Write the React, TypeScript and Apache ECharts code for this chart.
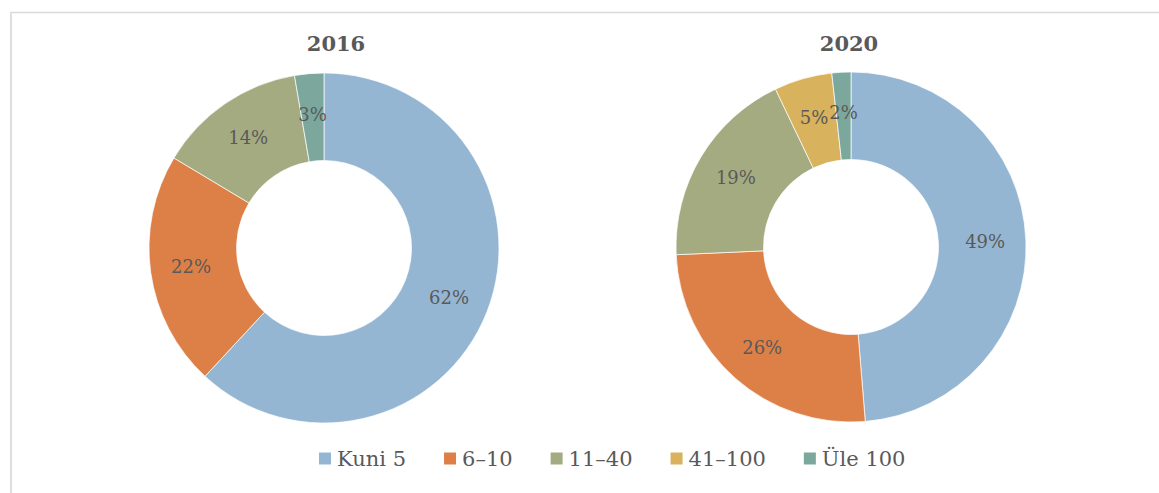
import React, { useEffect, useRef } from "react";
import * as echarts from "echarts";

const categories = ["Kuni 5", "6–10", "11–40", "41–100", "Üle 100"];
const colors = ["#94B6D2", "#DD8047", "#A5AB81", "#D8B25C", "#7BA79D"];
const years = ["2016", "2020"];
const values2016 = [61.9, 21.7, 13.7, 0, 2.7];
const values2020 = [48.7, 25.6, 18.6, 5.35, 1.75];

const FONT = "DejaVu Serif";
const TEXT = "#595959";

export default function App() {
  const ref = useRef<HTMLDivElement>(null);
  useEffect(() => {
    if (!ref.current) return;
    const chart = echarts.init(ref.current, null, { renderer: "svg" });
    const mk = (vals: number[]) => {
      const total = vals.reduce((a, b) => a + b, 0);
      return {
        data: categories
          .map((name, i) => ({ name, value: vals[i], itemStyle: { color: colors[i] } }))
          .filter((d) => d.value > 0),
        total,
      };
    };
    const s1 = mk(values2016);
    const s2 = mk(values2020);
    const pie = (s: { data: any[]; total: number }, cx: number, cy: number) => ({
      type: "pie",
      center: [cx, cy],
      radius: [87.5, 175],
      startAngle: 90,
      clockwise: true,
      avoidLabelOverlap: false,
      itemStyle: { borderColor: "#ffffff", borderWidth: 0.7 },
      label: {
        show: true,
        position: "inside",
        fontFamily: FONT,
        fontSize: 18,
        color: TEXT,
        formatter: (p: any) => Math.round((p.value / s.total) * 100) + "%",
      },
      labelLine: { show: false },
      emphasis: { disabled: true },
      data: s.data,
    });
    chart.setOption({
      animation: false,
      backgroundColor: "#ffffff",
      title: [
        {
          text: years[0],
          left: 331,
          top: 28,
          textAlign: "center",
          textStyle: { fontFamily: FONT, fontSize: 21, fontWeight: "bold", color: TEXT },
        },
        {
          text: years[1],
          left: 844,
          top: 28,
          textAlign: "center",
          textStyle: { fontFamily: FONT, fontSize: 21, fontWeight: "bold", color: TEXT },
        },
      ],
      legend: {
        data: categories,
        left: 317,
        top: 448,
        padding: 0,
        icon: "rect",
        itemWidth: 14,
        itemHeight: 14,
        itemGap: 36,
        textStyle: { fontFamily: FONT, fontSize: 21, color: TEXT },
      },
      graphic: [
        {
          type: "polyline",
          shape: { points: [[11, 600], [11, 12.5], [1300, 12.5]] },
          style: { stroke: "#d9d9d9", lineWidth: 1.7, fill: null },
          silent: true,
        },
      ],
      series: [pie(s1, 324, 248), pie(s2, 851, 247)],
    });
    return () => chart.dispose();
  }, []);
  return (
    <div
      ref={ref}
      style={{ position: "fixed", left: 0, top: 0, width: 1159, height: 493 }}
    />
  );
}
